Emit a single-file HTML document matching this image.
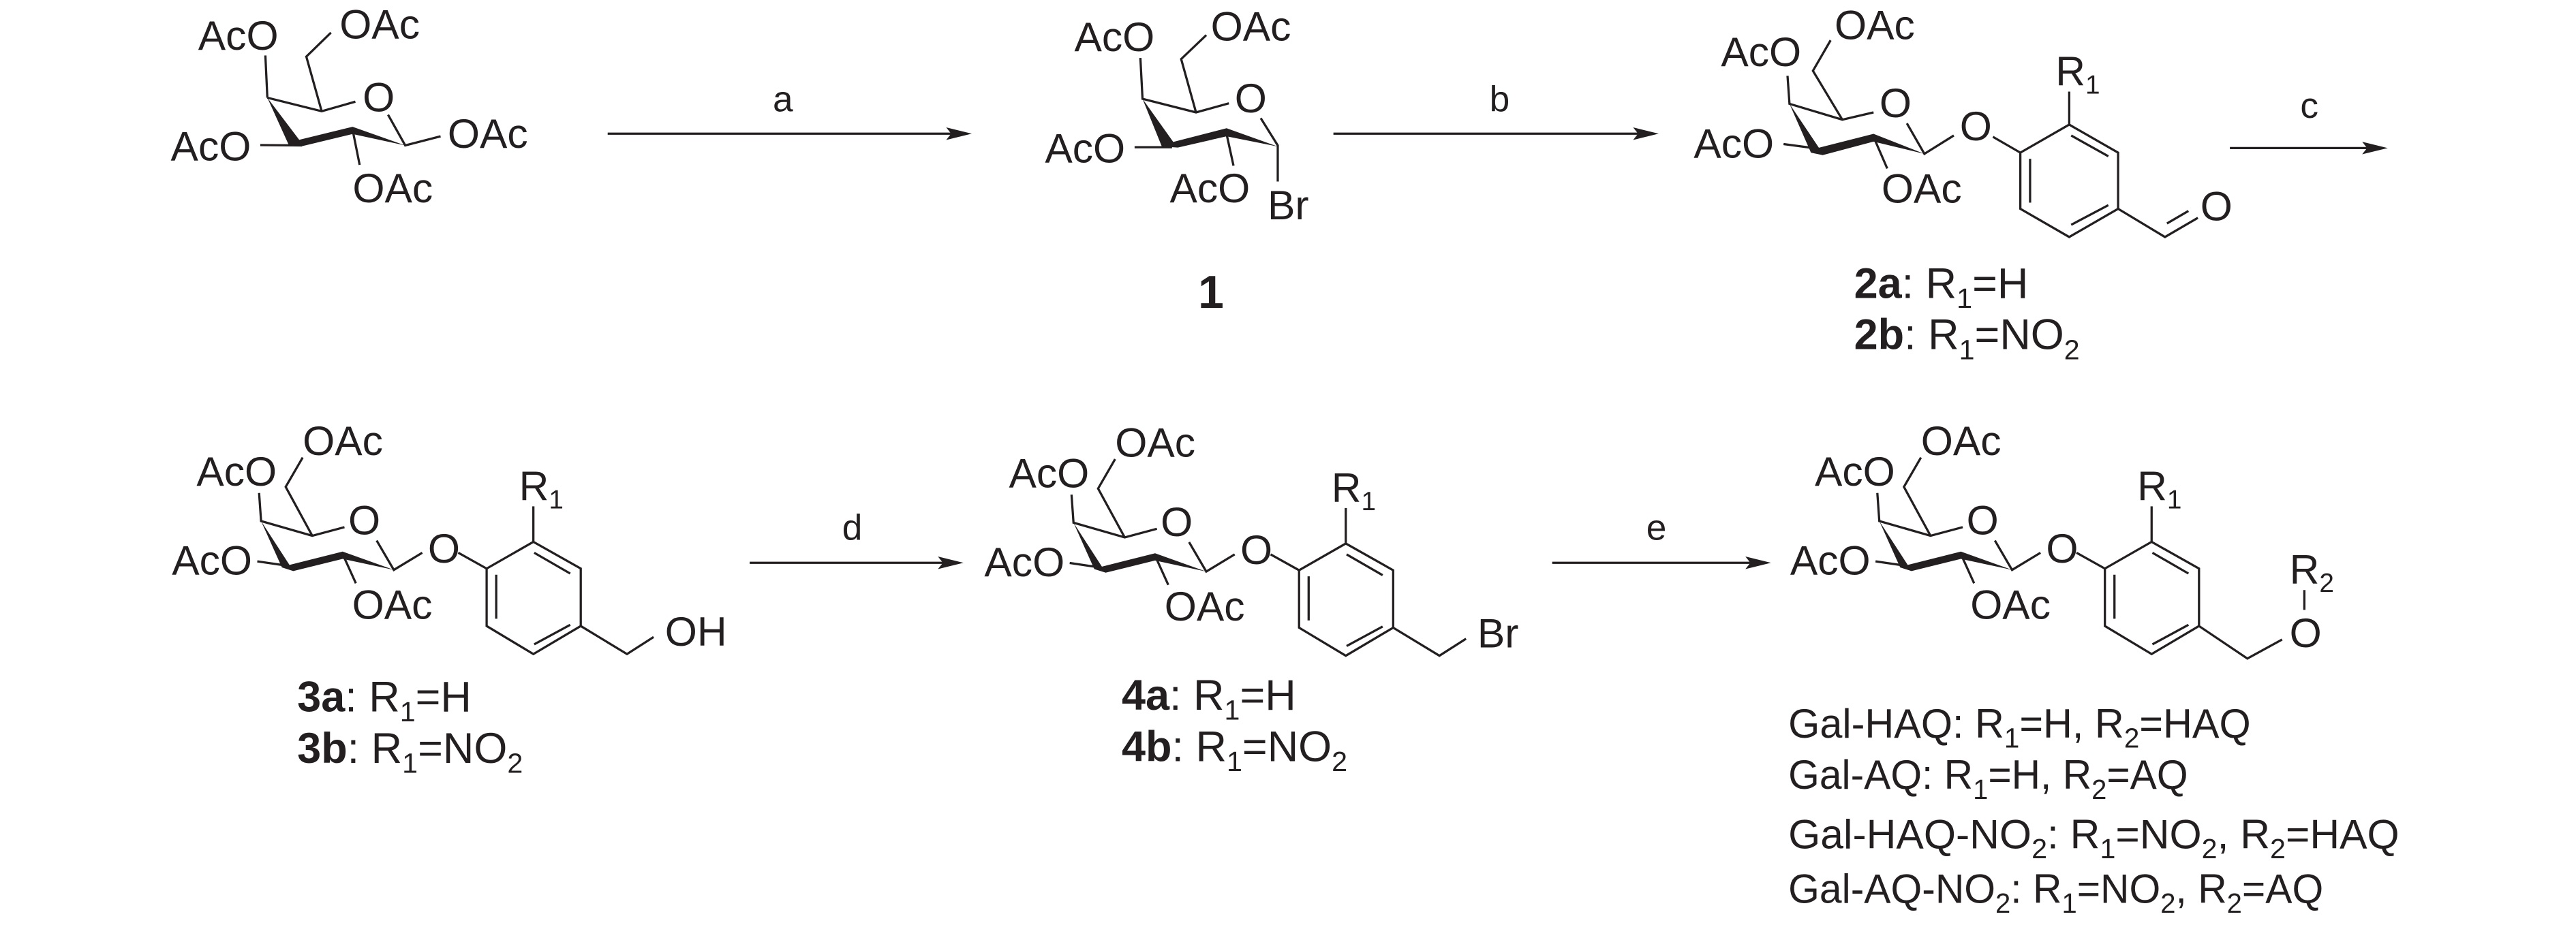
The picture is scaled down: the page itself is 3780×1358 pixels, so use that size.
<!DOCTYPE html>
<html><head><meta charset="utf-8"><style>
html,body{margin:0;padding:0;background:#fff;}
svg{display:block;}
text{font-family:"Liberation Sans",Arial,sans-serif;fill:#231f20;}
</style></head><body>
<svg width="3780" height="1358" viewBox="0 0 1560 560.45" xmlns="http://www.w3.org/2000/svg">
<g stroke="#231f20" stroke-width="1.35" fill="none" stroke-linecap="butt">
<path d="M161.9,59.2L160.7,33.6 M161.9,59.2L194.8,67.4L215.2,61.6 M235,69.5L245.4,88.1L266.8,82.6 M213.5,78.5L217.8,99.9 M182.9,88.1L157.6,87.9 M194.8,67.4L185.5,34.3L200.4,19.8"/>
<path d="M690.6,35.1L691.9,59.9L724.3,68.1L744.2,62.6 M724.3,68.1L715.3,35.8L730.5,21.3 M763.5,71.6L773.8,88.1L773.8,110 M709.8,89.2L687.1,89.2 M742.8,81.2L747,100.4"/>
<path d="M1082.5,45.9L1083.7,62.9L1115.7,72.5L1134.6,68.1 M1115.7,72.5L1097.9,42.9L1108.6,24.4 M1154.8,74.7L1165.4,93.2L1183.2,82.1 M1096.7,89.5L1080.1,87.3 M1134.6,82.9L1142.9,102.1 M1206.9,82.9L1223.5,92.5 M1223.5,92.5L1253.1,75.5L1282.7,92.5L1282.7,126.5L1253.1,143.6L1223.5,126.5Z M1254.3,82.1L1276.8,94.7 M1229.4,96.2L1229.4,122.8 M1254.3,136.2L1276.8,124.3 M1253.1,75.5L1253.1,55.5 M1282.7,126.5L1311.1,143.6L1331,132 M1312.3,135.4L1325.3,127.8"/>
<path d="M156.9,298.7L158.1,315.7L189.1,324.6L208.6,319.4 M189.1,324.6L173,295L183.3,277.2 M228.1,327.5L238.5,345.3L255.7,334.9 M170.7,342.3L155.8,340.1 M207.5,335.7L215.5,353.4 M277.5,334.9L294.7,344.5 M294.7,344.5L323,328.3L351.7,344.5L351.7,379.3L323,396.3L294.7,379.3Z M323.5,334.9L345.3,347.5 M300.5,348.2L300.5,374.9 M323.5,390.4L345.3,378.6 M323,328.3L323,306.8 M351.7,379.3L379.7,396.3L395.8,386"/>
<g transform="translate(492,1)">
<path d="M156.9,298.7L158.1,315.7L189.1,324.6L208.6,319.4 M189.1,324.6L173,295L183.3,277.2 M228.1,327.5L238.5,345.3L255.7,334.9 M170.7,342.3L155.8,340.1 M207.5,335.7L215.5,353.4 M277.5,334.9L294.7,344.5 M294.7,344.5L323,328.3L351.7,344.5L351.7,379.3L323,396.3L294.7,379.3Z M323.5,334.9L345.3,347.5 M300.5,348.2L300.5,374.9 M323.5,390.4L345.3,378.6 M323,328.3L323,306.8 M351.7,379.3L379.7,396.3L395.8,386"/>
</g>
<g transform="translate(980,0)">
<path d="M156.9,298.7L158.1,315.7L189.1,324.6L208.6,319.4 M189.1,324.6L173,295L183.3,277.2 M228.1,327.5L238.5,345.3L255.7,334.9 M170.7,342.3L155.8,340.1 M207.5,335.7L215.5,353.4 M277.5,334.9L294.7,344.5 M294.7,344.5L323,328.3L351.7,344.5L351.7,379.3L323,396.3L294.7,379.3Z M323.5,334.9L345.3,347.5 M300.5,348.2L300.5,374.9 M323.5,390.4L345.3,378.6 M323,328.3L323,306.8 M351.7,379.3L381,399L402,387.5 M415.5,369.5L415.5,357.5"/>
</g>
<path d="M368,81H576 M807.5,81H992 M1350.4,89.7H1434 M454,341H571 M940,341H1060"/>
</g>
<g fill="#231f20" stroke="none">
<polygon points="161.9,59.2 181.2,84.7 213.5,76.8 245.4,88.1 213.5,81.2 182.9,88.6 175,88.1"/>
<polygon points="691.9,59.9 710.5,86 742.8,77.7 773.8,88.8 742.8,82.6 713.3,89.4 703.6,88.8"/>
<polygon points="1083.7,62.9 1101.5,89.5 1134.6,81.1 1165.4,93.2 1134.6,85.8 1103.8,94 1096.7,92.5"/>
<polygon points="158.1,315.7 175.3,342.3 207.5,334.2 238.5,345.3 207.5,338.6 177.6,346 170.7,343.8"/>
<polygon transform="translate(492,1)" points="158.1,315.7 175.3,342.3 207.5,334.2 238.5,345.3 207.5,338.6 177.6,346 170.7,343.8"/>
<polygon transform="translate(980,0)" points="158.1,315.7 175.3,342.3 207.5,334.2 238.5,345.3 207.5,338.6 177.6,346 170.7,343.8"/>
<polygon points="588.5,81 573,77.2 576,81 573,84.8"/>
<polygon points="1004.5,81 989,77.2 992,81 989,84.8"/>
<polygon points="1446,89.7 1430.5,85.9 1433.5,89.7 1430.5,93.5"/>
<polygon points="583.5,341 568,337.2 571,341 568,344.8"/>
<polygon points="1072.5,341 1057,337.2 1060,341 1057,344.8"/>
</g>
<g font-size="25">
<text x="120" y="30.2">AcO</text><text x="205.6" y="23.3">OAc</text><text x="103.4" y="97.1">AcO</text>
<text x="271.1" y="89.5">OAc</text><text x="213.5" y="122.6">OAc</text><text x="219.6" y="67.4">O</text>
<text x="650.6" y="31">AcO</text><text x="733.2" y="24.5">OAc</text><text x="747.7" y="68.1">O</text>
<text x="632.8" y="98.4">AcO</text><text x="708.4" y="122.5">AcO</text><text x="767.6" y="132.8">Br</text>
<text x="725.6" y="186.5" font-size="28" font-weight="bold">1</text>
<text x="1042.2" y="40">AcO</text><text x="1111" y="23.7">OAc</text><text x="1138.2" y="71">O</text>
<text x="1025.7" y="95.5">AcO</text><text x="1139.4" y="122.8">OAc</text><text x="1186.8" y="85.1">O</text>
<text x="1244.8" y="51.8">R<tspan font-size="16" dy="5">1</tspan></text>
<text x="1332.5" y="133.5">O</text>
<text x="1122.8" y="180.6" font-size="26"><tspan font-weight="bold">2a</tspan>: R<tspan font-size="17" dy="6">1</tspan><tspan dy="-6">=H</tspan></text>
<text x="1122.8" y="211.6" font-size="26"><tspan font-weight="bold">2b</tspan>: R<tspan font-size="17" dy="6">1</tspan><tspan dy="-6">=NO</tspan><tspan font-size="17" dy="6">2</tspan></text>
<text x="119" y="294.2">AcO</text><text x="183.3" y="275.7">OAc</text><text x="210.9" y="323.8">O</text>
<text x="104.1" y="348.2">AcO</text><text x="213.2" y="374.9">OAc</text><text x="259.1" y="340.8">O</text>
<text x="314.3" y="303.1">R<tspan font-size="16" dy="5">1</tspan></text>
<text x="402.7" y="391.2">OH</text>
<text x="180" y="431.1" font-size="26"><tspan font-weight="bold">3a</tspan>: R<tspan font-size="17" dy="6">1</tspan><tspan dy="-6">=H</tspan></text>
<text x="180" y="462.2" font-size="26"><tspan font-weight="bold">3b</tspan>: R<tspan font-size="17" dy="6">1</tspan><tspan dy="-6">=NO</tspan><tspan font-size="17" dy="6">2</tspan></text>
<g transform="translate(492,1)">
<text x="119" y="294.2">AcO</text><text x="183.3" y="275.7">OAc</text><text x="210.9" y="323.8">O</text>
<text x="104.1" y="348.2">AcO</text><text x="213.2" y="374.9">OAc</text><text x="259.1" y="340.8">O</text>
<text x="314.3" y="303.1">R<tspan font-size="16" dy="5">1</tspan></text>
<text x="402.7" y="391.2">Br</text>
</g>
<text x="679.3" y="430.1" font-size="26"><tspan font-weight="bold">4a</tspan>: R<tspan font-size="17" dy="6">1</tspan><tspan dy="-6">=H</tspan></text>
<text x="679.3" y="461.2" font-size="26"><tspan font-weight="bold">4b</tspan>: R<tspan font-size="17" dy="6">1</tspan><tspan dy="-6">=NO</tspan><tspan font-size="17" dy="6">2</tspan></text>
<g transform="translate(980,0)">
<text x="119" y="294.2">AcO</text><text x="183.3" y="275.7">OAc</text><text x="210.9" y="323.8">O</text>
<text x="104.1" y="348.2">AcO</text><text x="213.2" y="374.9">OAc</text><text x="259.1" y="340.8">O</text>
<text x="314.3" y="303.1">R<tspan font-size="16" dy="5">1</tspan></text>
<text x="406.5" y="392.1">O</text>
<text x="406.5" y="353.7">R<tspan font-size="16" dy="5">2</tspan></text>
</g>
<text x="1083" y="447" textLength="280" lengthAdjust="spacingAndGlyphs">Gal-HAQ: R<tspan font-size="17" dy="6">1</tspan><tspan dy="-6">=H, R</tspan><tspan font-size="17" dy="6">2</tspan><tspan dy="-6">=HAQ</tspan></text>
<text x="1083" y="478" textLength="242" lengthAdjust="spacingAndGlyphs">Gal-AQ: R<tspan font-size="17" dy="6">1</tspan><tspan dy="-6">=H, R</tspan><tspan font-size="17" dy="6">2</tspan><tspan dy="-6">=AQ</tspan></text>
<text x="1083" y="514" textLength="370" lengthAdjust="spacingAndGlyphs">Gal-HAQ-NO<tspan font-size="17" dy="6">2</tspan><tspan dy="-6">: R</tspan><tspan font-size="17" dy="6">1</tspan><tspan dy="-6">=NO</tspan><tspan font-size="17" dy="6">2</tspan><tspan dy="-6">, R</tspan><tspan font-size="17" dy="6">2</tspan><tspan dy="-6">=HAQ</tspan></text>
<text x="1083" y="547" textLength="324" lengthAdjust="spacingAndGlyphs">Gal-AQ-NO<tspan font-size="17" dy="6">2</tspan><tspan dy="-6">: R</tspan><tspan font-size="17" dy="6">1</tspan><tspan dy="-6">=NO</tspan><tspan font-size="17" dy="6">2</tspan><tspan dy="-6">, R</tspan><tspan font-size="17" dy="6">2</tspan><tspan dy="-6">=AQ</tspan></text>
<text x="468" y="67.4" font-size="22">a</text>
<text x="902" y="67.4" font-size="22">b</text>
<text x="1393" y="71.3" font-size="22">c</text>
<text x="510" y="327" font-size="22">d</text>
<text x="997" y="327" font-size="22">e</text>
</g>
</svg>
</body></html>
